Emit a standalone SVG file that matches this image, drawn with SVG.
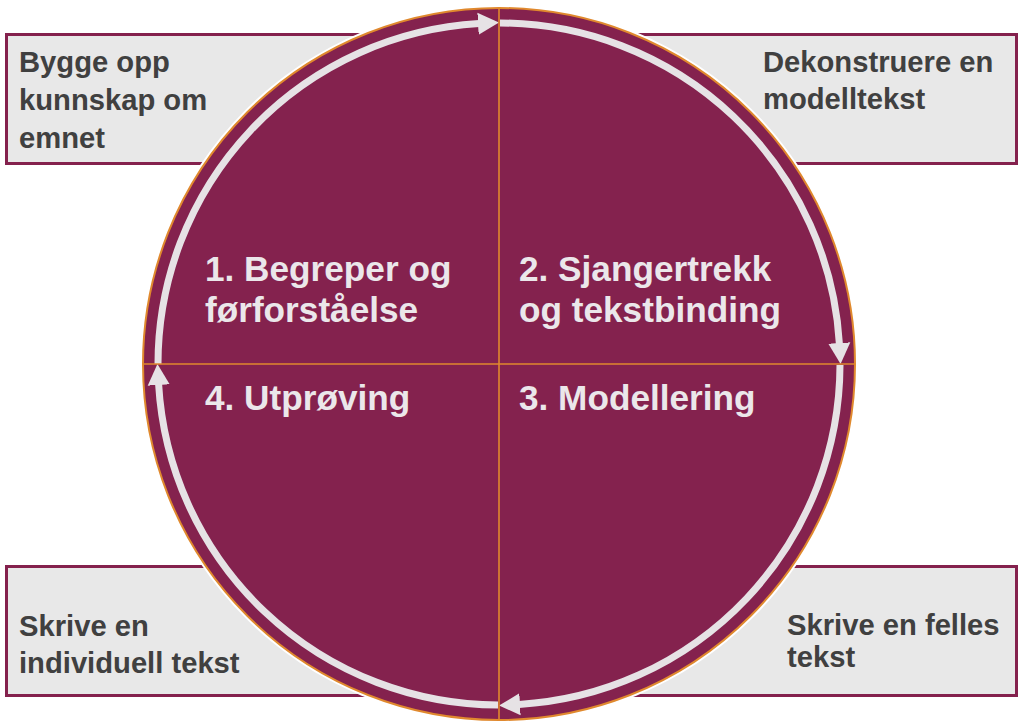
<svg xmlns="http://www.w3.org/2000/svg" width="1024" height="728" viewBox="0 0 1024 728">
  <style>
    .box { fill: #e8e8e8; stroke: #84214d; stroke-width: 3; }
    .boxtext { font-family: "Liberation Sans", Arial, sans-serif; font-weight: bold; font-size: 29.2px; fill: #404040; }
    .ctext { font-family: "Liberation Sans", Arial, sans-serif; font-weight: bold; font-size: 35.2px; fill: #ebe7ea; }
    .arc { fill: none; stroke: #e6e2e5; stroke-width: 7; marker-end: url(#head); }
    .axis { stroke: #e0892e; stroke-width: 1.6; }
  </style>
  <defs>
    <marker id="head" markerUnits="userSpaceOnUse" markerWidth="24" markerHeight="26" refX="1" refY="12" orient="auto" viewBox="0 0 24 24">
      <path d="M0,1 L21,12 L0,23 Z" fill="#e6e2e5"/>
    </marker>
  </defs>
  <rect width="1024" height="728" fill="#ffffff"/>

  <g id="box-top-left">
    <rect class="box" x="6.5" y="34.5" width="494" height="129"/>
  </g>
  <g id="box-top-right">
    <rect class="box" x="498" y="34.5" width="518.5" height="129"/>
  </g>
  <g id="box-bottom-left">
    <rect class="box" x="6.5" y="566.5" width="494" height="129"/>
  </g>
  <g id="box-bottom-right">
    <rect class="box" x="498" y="566.5" width="518.5" height="129"/>
  </g>

  <g id="cycle">
    <circle cx="499" cy="364" r="359" fill="#ffffff"/>
    <circle cx="499" cy="364" r="356" fill="#84224e" stroke="#e0892e" stroke-width="2"/>
  </g>

  <g id="connectors">
    <path class="arc" d="M158,364 A341,341 0 0 1 479,23.6"/>
    <path class="arc" d="M500,23 A341,341 0 0 1 839.4,344"/>
    <path class="arc" d="M840,365 A341,341 0 0 1 519,704.4"/>
    <path class="arc" d="M498,705 A341,341 0 0 1 158.6,384"/>
    <line class="axis" x1="143" y1="364" x2="855" y2="364"/>
    <line class="axis" x1="499" y1="8" x2="499" y2="720"/>
  </g>

  <g id="label-top-left">
    <text class="boxtext" x="19" y="72">Bygge opp</text>
    <text class="boxtext" x="19" y="110">kunnskap om</text>
    <text class="boxtext" x="19" y="148">emnet</text>
  </g>
  <g id="label-top-right">
    <text class="boxtext" x="763" y="72">Dekonstruere en</text>
    <text class="boxtext" x="763" y="109">modelltekst</text>
  </g>
  <g id="label-bottom-left">
    <text class="boxtext" x="19" y="636">Skrive en</text>
    <text class="boxtext" x="19" y="673">individuell tekst</text>
  </g>
  <g id="label-bottom-right">
    <text class="boxtext" x="787" y="635">Skrive en felles</text>
    <text class="boxtext" x="787" y="667">tekst</text>
  </g>

  <g id="step-1">
    <text class="ctext" x="205" y="281">1. Begreper og</text>
    <text class="ctext" x="205" y="322">førforståelse</text>
  </g>
  <g id="step-2">
    <text class="ctext" x="519" y="281">2. Sjangertrekk</text>
    <text class="ctext" x="519" y="322">og tekstbinding</text>
  </g>
  <g id="step-3">
    <text class="ctext" x="519" y="410">3. Modellering</text>
  </g>
  <g id="step-4">
    <text class="ctext" x="205" y="410">4. Utprøving</text>
  </g>
</svg>
